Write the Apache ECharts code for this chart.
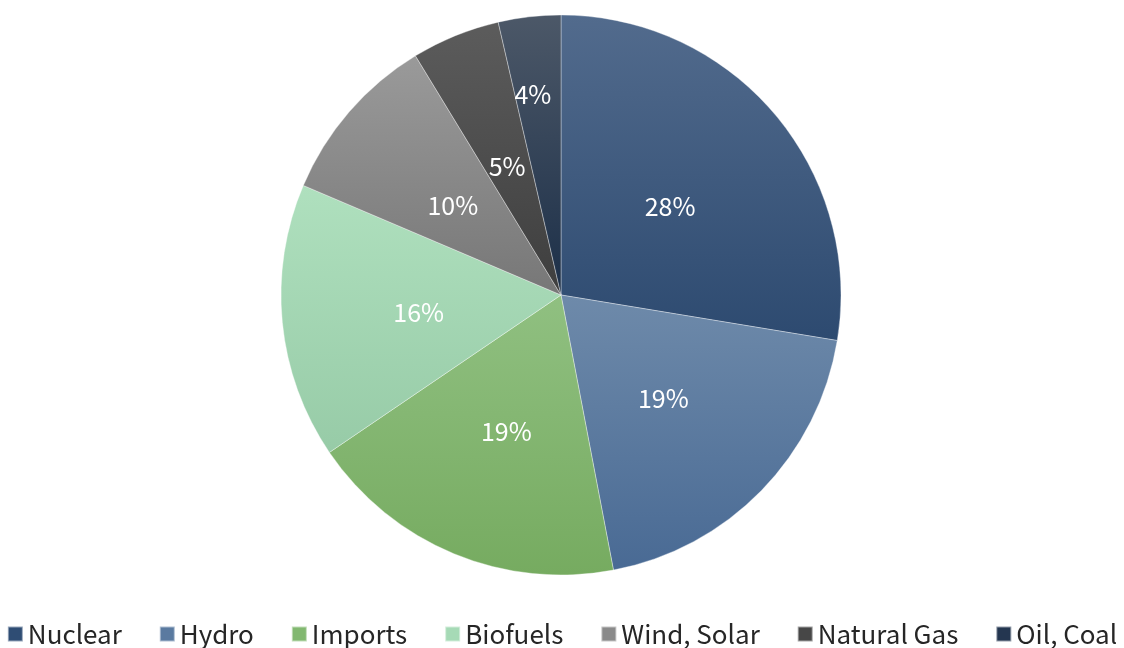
<!DOCTYPE html>
<html><head><meta charset="utf-8">
<script src="https://cdn.jsdelivr.net/npm/echarts@6/dist/echarts.min.js"></script>
<style>html,body{margin:0;padding:0;background:#fff}#c{width:1124px;height:648px}</style>
</head><body><div id="c"></div>
<script>
const categories = ['Nuclear','Hydro','Imports','Biofuels','Wind, Solar','Natural Gas','Oil, Coal'];
const values = [27.6, 19.4, 18.5, 15.9, 9.9, 5.1, 3.6];
const topColors = ['#526b8d','#6e8aaa','#90c081','#afe0be','#9a9a9a','#5c5c5c','#4c5868'];
const bottomColors = ['#2d4a70','#496a94','#76ab60','#97cba7','#777777','#3e3e3e','#1c2f48'];
const legendColors = ['#2f4d74','#5a7aa0','#82b870','#a6dab6','#8a8a8a','#474747','#243650'];

const chart = echarts.init(document.getElementById('c'));
const data = categories.map((n,i)=>{
  const d = {
    name:n, value:values[i],
    itemStyle:{color:new echarts.graphic.LinearGradient(0,0,0,1,[{offset:0,color:topColors[i]},{offset:1,color:bottomColors[i]}])}
  };
  if (n === 'Oil, Coal') d.label = {offset:[-12,-58]};
  return d;
});
chart.setOption({
  animation:false,
  legend:{
    bottom:-4, left:'center', itemWidth:15, itemHeight:15, itemGap:37,
    icon:'rect',
    textStyle:{fontSize:26, color:'#262626', fontFamily:'Noto Sans CJK SC'},
    data:categories.map((n,i)=>({name:n, itemStyle:{color:legendColors[i]}}))
  },
  series:[{
    type:'pie', center:[561,295], radius:[0,280], startAngle:90, clockwise:true,
    label:{show:true, position:'inside', color:'#fff', fontSize:25, fontFamily:'Noto Sans CJK SC',
      offset:[0,4],
      formatter:p=>Math.round(p.value)+'%'},
    labelLine:{show:false},
    itemStyle:{borderColor:'rgba(255,255,255,0.5)', borderWidth:0.7},
    emphasis:{disabled:true},
    data:data
  }]
});
</script></body></html>
